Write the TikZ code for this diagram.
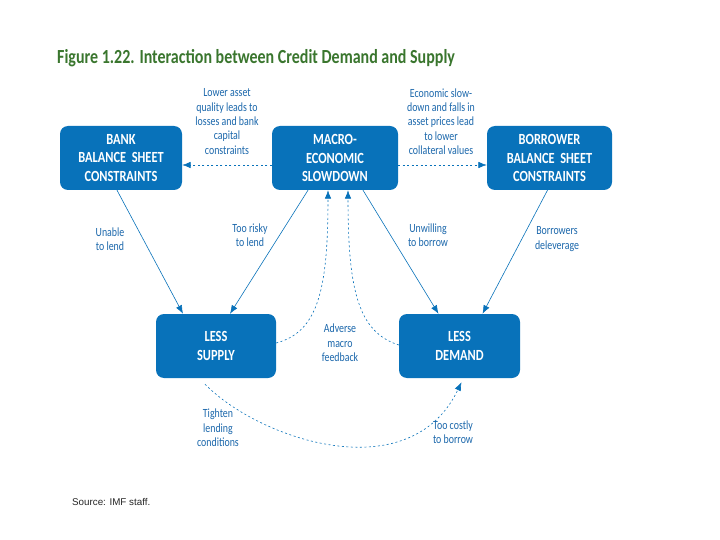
\documentclass[tikz,border=0pt]{standalone}
\usepackage{fontspec}
\setmainfont{Carlito}
\newfontfamily\condfont[FakeStretch=0.80]{Carlito}
\newfontfamily\thinfont[FakeStretch=0.79]{Carlito}
\newfontfamily\srcfont{Liberation Sans}
\usetikzlibrary{arrows.meta}
\definecolor{imfblue}{RGB}{8,114,186}
\definecolor{labelblue}{RGB}{28,104,172}
\definecolor{linegray}{RGB}{70,90,115}
\definecolor{titlegreen}{RGB}{58,118,46}
\begin{document}
\begin{tikzpicture}[x=1pt, y=-1pt,
    box/.style={rectangle, rounded corners=8pt, fill=imfblue, text=white, minimum height=64pt,
      align=center, font=\condfont\fontsize{15.5}{18.5}\selectfont\bfseries, inner sep=2pt},
    lbl/.style={text=labelblue, align=center, font=\thinfont\fontsize{12.5}{14.3}\selectfont, inner sep=1pt},
    tip/.style={-{Latex[length=8.5pt,width=6.5pt]}, imfblue},
    link/.style={draw=linegray, line width=0.6pt},
    fback/.style={draw=linegray, line width=0.6pt, dash pattern=on 2pt off 2.5pt}]
    \useasboundingbox [fill=white] (0,0) rectangle (720,540);

    \node [right, text=titlegreen, font=\condfont\fontsize{20}{22}\selectfont\bfseries, inner sep=0pt] (title) at (57,58)
        {Figure 1.22. Interaction between Credit Demand and Supply};

    \begin{scope}[every node/.style={box}]
        \node [minimum width=122pt] (bank) at (121,158) {BANK\\BALANCE\ \ SHEET\\CONSTRAINTS};
        \node [minimum width=126pt] (macro) at (335,158) {MACRO-\\ECONOMIC\\SLOWDOWN};
        \node [minimum width=125pt] (borrower) at (549.5,158) {BORROWER\\BALANCE\ \ SHEET\\CONSTRAINTS};
        \node [minimum width=120pt] (supply) at (216,346) {LESS\\SUPPLY};
        \node [minimum width=121pt] (demand) at (459.5,346) {LESS\\DEMAND};
    \end{scope}

    \begin{scope}[every node/.style={lbl}]
        \node (lowerasset) at (227,121.5) {Lower asset\\quality leads to\\losses and bank\\capital\\constraints};
        \node (econslow) at (441,121.5) {Economic slow-\\down and falls in\\asset prices lead\\to lower\\collateral values};
        \node (unable) at (110,239) {Unable\\to lend};
        \node (toorisky) at (250,235) {Too risky\\to lend};
        \node (unwilling) at (428,235) {Unwilling\\to borrow};
        \node (deleverage) at (557,239) {Borrowers\\deleverage};
        \node (adverse) at (340,343) {Adverse\\macro\\feedback};
        \node (tighten) at (218,428) {Tighten\\lending\\conditions};
        \node (toocostly) at (453,432) {Too costly\\to borrow};
    \end{scope}

    \begin{scope}[link, tip]
        \draw ([xshift=-4pt]bank.south) -- ([xshift=-33pt]supply.north);
        \draw ([xshift=-27pt]macro.south) -- ([xshift=14pt]supply.north);
        \draw ([xshift=28pt]macro.south) -- ([xshift=-21pt]demand.north);
        \draw ([xshift=-2pt]borrower.south) -- ([xshift=23pt]demand.north);
    \end{scope}

    \begin{scope}[fback, tip]
        \draw ([yshift=-7pt]macro.west) -- ([yshift=-7pt]bank.east);
        \draw ([yshift=-7pt]macro.east) -- ([yshift=-7pt]borrower.east -| borrower.west);
        \draw ([yshift=3pt]supply.east) .. controls (318,332) and (328,290) .. ([xshift=-7pt]macro.south);
        \draw ([yshift=1pt]demand.west) .. controls (358,332) and (348,290) .. ([xshift=13pt]macro.south);
        \draw ([xshift=-11pt,yshift=-6pt]supply.south) .. controls (260,440) and (410,490) .. ([xshift=2pt,yshift=-4pt]demand.south);
    \end{scope}

    \node [right, font=\srcfont\fontsize{9.8}{12}\selectfont, text=black!85, inner sep=0pt] (source) at (72,502) {Source: IMF staff.};
\end{tikzpicture}
\end{document}
